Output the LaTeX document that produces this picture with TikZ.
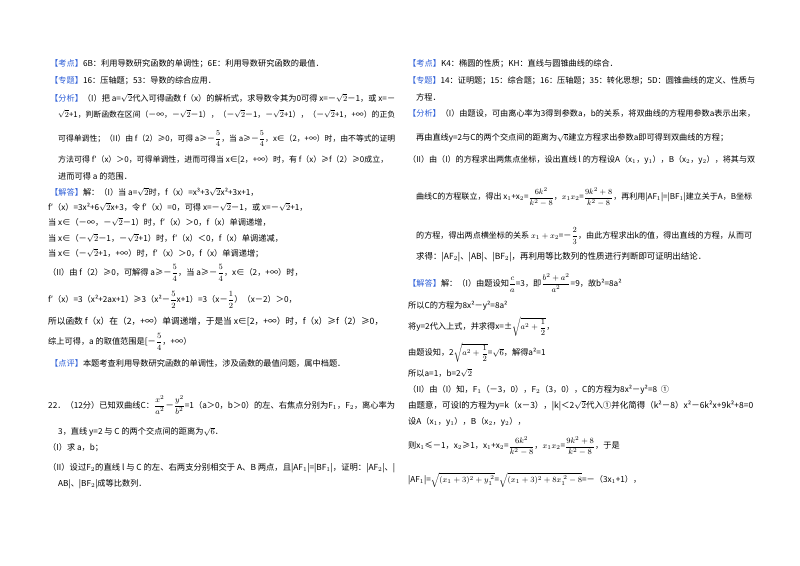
\documentclass[tikz,border=0pt]{standalone}
\usepackage{fontspec}
\usepackage{amsmath}
\setmainfont{Noto Sans CJK SC}
\definecolor{lb}{HTML}{2E5FD8}
\newcommand{\tg}[1]{\textcolor{lb}{【#1】}}
\newcommand{\mfr}[2]{$\dfrac{#1}{#2}$}
\newcommand{\fit}[2]{\resizebox{#1pt}{!}{#2}}
\newcommand{\ia}{$_1$}
\newcommand{\ib}{$_2$}
\begin{document}
\begin{tikzpicture}[x=1pt,y=1pt,t/.style={anchor=west,inner sep=0pt,font=\fontsize{8.2}{10}\selectfont}]
\fill[white] (0,0) rectangle (800,-565);
\useasboundingbox (0,0) rectangle (800,-565);
% left column
\node[t] (a1) at (50,-64) {\tg{考点}6B：利用导数研究函数的单调性；6E：利用导数研究函数的最值．};
\node[t] (a2) at (50,-81) {\tg{专题}16：压轴题；53：导数的综合应用．};
\node[t] (a3) at (50,-98) {\fit{345}{\tg{分析}（I）把 a=$\sqrt{2}$代入可得函数 f（x）的解析式，求导数令其为0可得 x=－$\sqrt{2}$－1，或 x=－}};
\node[t] (a4) at (58,-114) {\fit{337}{$\sqrt{2}$+1，判断函数在区间（－∞，－$\sqrt{2}$－1），（－$\sqrt{2}$－1，－$\sqrt{2}$+1），（－$\sqrt{2}$+1，+∞）的正负}};
\node[t] (a5) at (58,-139) {\fit{337}{可得单调性；（II）由 f（2）≥0，可得 a≥－\mfr{5}{4}，当 a≥－\mfr{5}{4}，x∈（2，+∞）时，由不等式的证明}};
\node[t] (a6) at (58,-160) {\fit{330}{方法可得 f′（x）＞0，可得单调性，进而可得当 x∈[2，+∞）时，有 f（x）≥f（2）≥0成立，}};
\node[t] (a7) at (58,-176) {进而可得 a 的范围．};
\node[t] (a8) at (50,-192) {\tg{解答}解：（I）当 a=$\sqrt{2}$时，f（x）=x³+3$\sqrt{2}$x²+3x+1，};
\node[t] (a9) at (48,-207) {f′（x）=3x²+6$\sqrt{2}$x+3，令 f′（x）=0，可得 x=－$\sqrt{2}$－1，或 x=－$\sqrt{2}$+1，};
\node[t] (a10) at (48,-222) {当 x∈（－∞，－$\sqrt{2}$－1）时，f′（x）＞0，f（x）单调递增，};
\node[t] (a11) at (48,-238) {当 x∈（－$\sqrt{2}$－1，－$\sqrt{2}$+1）时，f′（x）＜0，f（x）单调递减，};
\node[t] (a12) at (48,-253) {当 x∈（－$\sqrt{2}$+1，+∞）时，f′（x）＞0，f（x）单调递增；};
\node[t] (a13) at (48,-273) {（II）由 f（2）≥0，可解得 a≥－\mfr{5}{4}，当 a≥－\mfr{5}{4}，x∈（2，+∞）时，};
\node[t] (a14) at (48,-300) {f′（x）=3（x²+2ax+1）≥3（x²－\mfr{5}{2}x+1）=3（x－\mfr{1}{2}）（x－2）＞0，};
\node[t] (a15) at (48,-322) {\fit{335}{所以函数 f（x）在（2，+∞）单调递增，于是当 x∈[2，+∞）时，f（x）≥f（2）≥0，}};
\node[t] (a16) at (48,-342) {综上可得，a 的取值范围是[－\mfr{5}{4}，+∞）};
\node[t] (a17) at (50,-363) {\tg{点评}本题考查利用导数研究函数的单调性，涉及函数的最值问题，属中档题．};
\node[t] (a18) at (48,-405) {\fit{347}{22．（12分）已知双曲线C：\mfr{x^2}{a^2}－\mfr{y^2}{b^2}=1（a＞0，b＞0）的左、右焦点分别为F\ia，F\ib，离心率为}};
\node[t] (a19) at (58,-432) {3，直线 y=2 与 C 的两个交点间的距离为$\sqrt{6}$．};
\node[t] (a20) at (48,-448) {（I）求 a，b；};
\node[t] (a21) at (48,-468) {\fit{347}{（II）设过F\ib 的直线 l 与 C 的左、右两支分别相交于 A、B 两点，且|AF\ia|=|BF\ia|，证明：|AF\ib|、|}};
\node[t] (a22) at (58,-484) {AB|、|BF\ib|成等比数列．};
% right column
\node[t] (b1) at (408,-64) {\tg{考点}K4：椭圆的性质；KH：直线与圆锥曲线的综合．};
\node[t] (b2) at (408,-81) {\fit{347}{\tg{专题}14：证明题；15：综合题；16：压轴题；35：转化思想；5D：圆锥曲线的定义、性质与}};
\node[t] (b3) at (416,-97) {方程．};
\node[t] (b4) at (408,-113) {\fit{347}{\tg{分析}（I）由题设，可由离心率为3得到参数a，b的关系，将双曲线的方程用参数a表示出来，}};
\node[t] (b5) at (416,-138) {\fit{312}{再由直线y=2与C的两个交点间的距离为$\sqrt{6}$建立方程求出参数a即可得到双曲线的方程；}};
\node[t] (b6) at (408,-160) {\fit{347}{（II）由（I）的方程求出两焦点坐标，设出直线 l 的方程设A（x\ia，y\ia），B（x\ib，y\ib），将其与双}};
\node[t] (b7) at (416,-197) {\fit{336}{曲线C的方程联立，得出 x\ia+x\ib=\mfr{6k^2}{k^2-8}，$x_1x_2$=\mfr{9k^2+8}{k^2-8}，再利用|AF\ia|=|BF\ia|建立关于A，B坐标}};
\node[t] (b8) at (416,-236) {\fit{336}{的方程，得出两点横坐标的关系 $x_1+x_2$=－\mfr{2}{3}，由此方程求出k的值，得出直线的方程，从而可}};
\node[t] (b9) at (416,-257) {\fit{290}{求得：|AF\ib|、|AB|、|BF\ib|，再利用等比数列的性质进行判断即可证明出结论．}};
\node[t] (b10) at (408,-283) {\tg{解答}解：（I）由题设知\mfr{c}{a}=3，即\mfr{b^2+a^2}{a^2}=9，故b²=8a²};
\node[t] (b11) at (408,-306) {所以C的方程为8x²－y²=8a²};
\node[t] (b12) at (408,-327) {将y=2代入上式，并求得x=±$\sqrt{a^2+\dfrac{1}{2}}$，};
\node[t] (b13) at (408,-353) {由题设知，2$\sqrt{a^2+\dfrac{1}{2}}$=$\sqrt{6}$，解得a²=1};
\node[t] (b14) at (408,-373) {所以a=1，b=2$\sqrt{2}$};
\node[t] (b15) at (408,-390) {（II）由（I）知，F\ia（－3，0），F\ib（3，0），C的方程为8x²－y²=8 \ ①};
\node[t] (b16) at (408,-406) {\fit{345}{由题意，可设l的方程为y=k（x－3），|k|＜2$\sqrt{2}$代入①并化简得（k²－8）x²－6k²x+9k²+8=0}};
\node[t] (b17) at (408,-422) {设A（x\ia，y\ia），B（x\ib，y\ib），};
\node[t] (b18) at (408,-446) {则x\ia≤－1，x\ib≥1，x\ia+x\ib=\mfr{6k^2}{k^2-8}，$x_1x_2$=\mfr{9k^2+8}{k^2-8}，于是};
\node[t] (b19) at (408,-480) {|AF\ia|=$\sqrt{(x_1+3)^2+y_1^{\ 2}}$=$\sqrt{(x_1+3)^2+8x_1^{\ 2}-8}$=－（3x\ia+1），};
\end{tikzpicture}
\end{document}
